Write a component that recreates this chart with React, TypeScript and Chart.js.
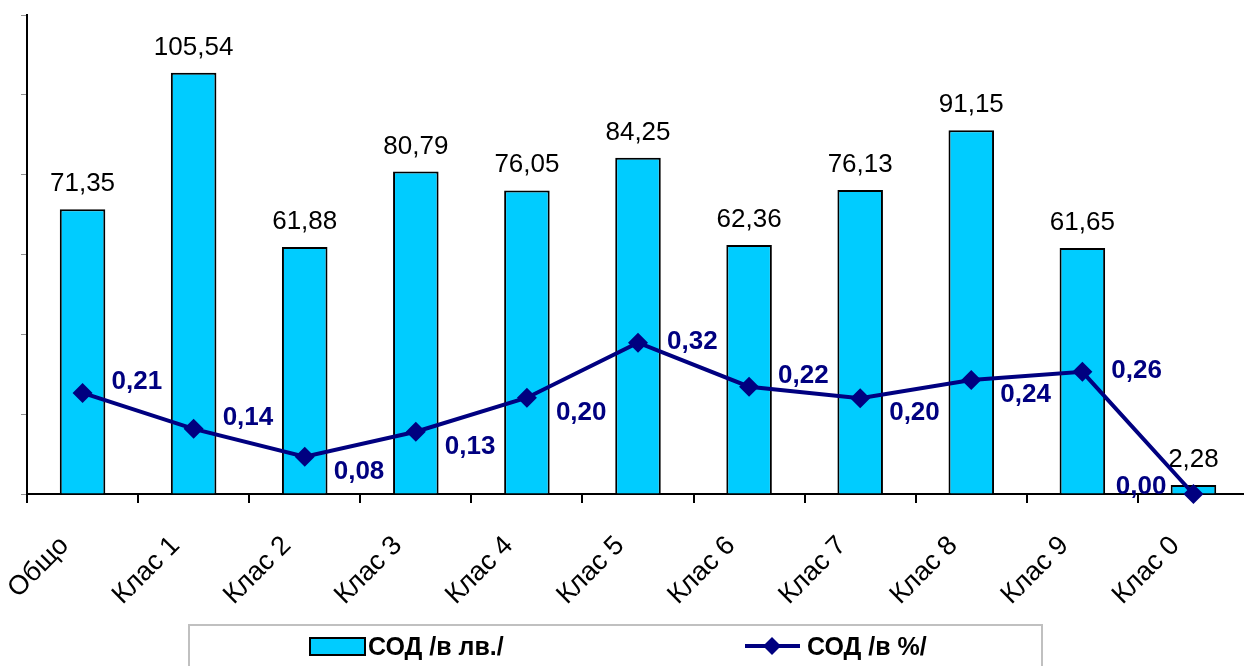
import React, { useEffect, useRef } from "react";
import { Chart, registerables } from "chart.js";

Chart.register(...registerables);

// ---- data ----
const categories = ["Общо", "Клас 1", "Клас 2", "Клас 3", "Клас 4", "Клас 5", "Клас 6", "Клас 7", "Клас 8", "Клас 9", "Клас 0"];
const sodLv = [71.35, 105.54, 61.88, 80.79, 76.05, 84.25, 62.36, 76.13, 91.15, 61.65, 2.28];
const sodPct = [0.211, 0.136, 0.078, 0.13, 0.201, 0.316, 0.224, 0.2, 0.238, 0.255, 0.0];
const seriesNames = ["СОД /в лв./", "СОД /в %/"];
const leftAxisMax = 120;
const leftAxisStep = 20;
const rightAxisMax = 1;

// label placement for the % series (style, not data)
const pctLabelPlacement = ["above", "above", "below", "below", "below", "right", "above", "below", "below", "right", "left"];

const FONT = "'Liberation Sans', Arial, sans-serif";
const BAR_FILL = "#00CCFF";
const NAVY = "#000080";

const fmt = (v: number) => v.toFixed(2).replace(".", ",");

const barLabelPlugin = {
  id: "barLabels",
  afterDatasetDraw(chart: any, args: any) {
    if (chart.data.datasets[args.index].type !== "bar") return;
    const ctx = chart.ctx;
    const meta = chart.getDatasetMeta(args.index);
    ctx.save();
    ctx.font = `26px ${FONT}`;
    ctx.fillStyle = "#000";
    ctx.textAlign = "center";
    ctx.textBaseline = "alphabetic";
    meta.data.forEach((el: any, i: number) => {
      const { x, y } = el.getProps(["x", "y"], true);
      ctx.fillText(fmt(sodLv[i]), x, y - 18);
    });
    ctx.restore();
  },
};

const pctLabelPlugin = {
  id: "pctLabels",
  afterDatasetsDraw(chart: any) {
    const idx = chart.data.datasets.findIndex((d: any) => d.type === "line");
    const meta = chart.getDatasetMeta(idx);
    const ctx = chart.ctx;
    ctx.save();
    ctx.font = `bold 26px ${FONT}`;
    ctx.fillStyle = NAVY;
    ctx.textBaseline = "alphabetic";
    meta.data.forEach((el: any, i: number) => {
      const { x, y } = el.getProps(["x", "y"], true);
      const p = pctLabelPlacement[i];
      const txt = fmt(sodPct[i]);
      if (p === "left") {
        ctx.textAlign = "right";
        ctx.fillText(txt, x - 27, y);
      } else {
        ctx.textAlign = "left";
        const dy = p === "above" ? -4 : p === "below" ? 22 : 6;
        ctx.fillText(txt, x + 29, y + dy);
      }
    });
    ctx.restore();
  },
};

const legendPlugin = {
  id: "boxLegend",
  afterDraw(chart: any) {
    const ctx = chart.ctx;
    ctx.save();
    // frame
    ctx.strokeStyle = "#C0C0C0";
    ctx.lineWidth = 2;
    ctx.strokeRect(189, 625, 853, 60);
    // bar swatch
    ctx.fillStyle = BAR_FILL;
    ctx.fillRect(310, 638, 55, 17);
    ctx.strokeStyle = "#000";
    ctx.lineWidth = 2;
    ctx.strokeRect(310, 638, 55, 17);
    ctx.font = `bold 25px ${FONT}`;
    ctx.fillStyle = "#000";
    ctx.textAlign = "left";
    ctx.textBaseline = "alphabetic";
    ctx.fillText(seriesNames[0], 368, 655);
    // line swatch
    ctx.strokeStyle = NAVY;
    ctx.lineWidth = 4;
    ctx.beginPath();
    ctx.moveTo(745, 646);
    ctx.lineTo(800, 646);
    ctx.stroke();
    ctx.fillStyle = NAVY;
    ctx.beginPath();
    ctx.moveTo(772, 637);
    ctx.lineTo(781, 646);
    ctx.lineTo(772, 655);
    ctx.lineTo(763, 646);
    ctx.closePath();
    ctx.fill();
    ctx.fillStyle = "#000";
    ctx.fillText(seriesNames[1], 807, 655);
    ctx.restore();
  },
};

export default function App() {
  const ref = useRef<HTMLCanvasElement | null>(null);

  useEffect(() => {
    if (!ref.current) return;
    const chart = new Chart(ref.current, {
      type: "bar",
      data: {
        labels: categories,
        datasets: [
          {
            type: "line",
            label: seriesNames[1],
            data: sodPct,
            yAxisID: "y1",
            borderColor: NAVY,
            backgroundColor: NAVY,
            borderWidth: 4,
            pointStyle: "rectRot",
            pointRadius: 10,
            pointBorderWidth: 0,
            pointBackgroundColor: NAVY,
            tension: 0,
            clip: false,
            order: 0,
          } as any,
          {
            type: "bar",
            label: seriesNames[0],
            data: sodLv,
            yAxisID: "y",
            backgroundColor: BAR_FILL,
            borderColor: "#000",
            borderWidth: 2,
            barPercentage: 0.41,
            categoryPercentage: 1,
            order: 1,
          } as any,
        ],
      },
      options: {
        responsive: false,
        animation: false,
        devicePixelRatio: 1,
        layout: { padding: { left: 0, top: 15, right: 11, bottom: 0 } },
        plugins: {
          legend: { display: false },
          tooltip: { enabled: false },
        },
        scales: {
          x: {
            grid: {
              display: true,
              drawOnChartArea: false,
              drawTicks: true,
              tickLength: 9,
              tickColor: "#000",
              lineWidth: 2,
              offset: true,
            },
            border: { display: true, color: "#000", width: 2 },
            ticks: {
              autoSkip: false,
              minRotation: 45,
              maxRotation: 45,
              padding: 27,
              labelOffset: -18,
              color: "#000",
              font: { family: FONT, size: 27 },
            },
            afterFit(scale: any) {
              scale.height = 172;
            },
          },
          y: {
            position: "left",
            min: 0,
            max: leftAxisMax,
            ticks: { stepSize: leftAxisStep, display: false },
            grid: {
              display: true,
              drawOnChartArea: false,
              drawTicks: true,
              tickLength: 6,
              tickColor: "#909090",
              lineWidth: 1,
            },
            border: { display: true, color: "#000", width: 2 },
            afterFit(scale: any) {
              scale.width = 27;
            },
          },
          y1: {
            display: false,
            position: "right",
            min: 0,
            max: rightAxisMax,
          },
        },
      } as any,
      plugins: [barLabelPlugin, pctLabelPlugin, legendPlugin],
    });
    return () => chart.destroy();
  }, []);

  return (
    <div
      style={{
        position: "fixed",
        left: 0,
        top: 0,
        width: 1244,
        height: 666,
        overflow: "hidden",
        background: "#fff",
      }}
    >
      <canvas ref={ref} width={1260} height={666} style={{ display: "block" }} />
    </div>
  );
}
